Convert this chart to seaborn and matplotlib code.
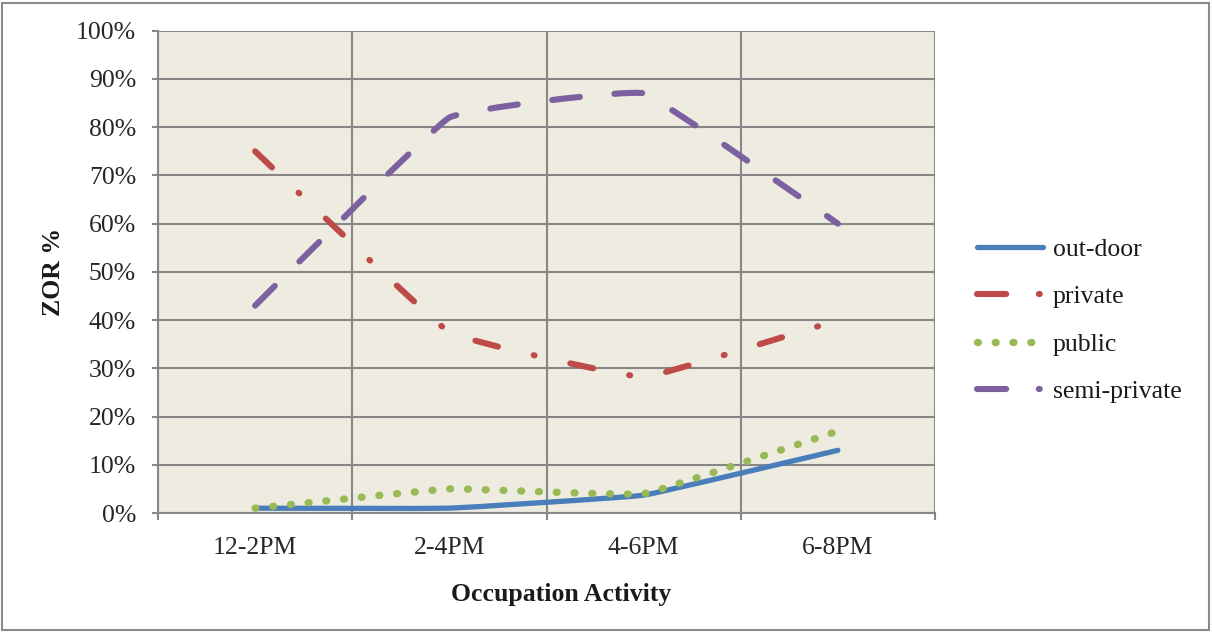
import numpy as np
import pandas as pd
import matplotlib
matplotlib.use("Agg")
import matplotlib.pyplot as plt
import seaborn as sns
from matplotlib.path import Path
from matplotlib.patches import PathPatch, Rectangle
from matplotlib.lines import Line2D
from matplotlib.ticker import FixedLocator, PercentFormatter

# ---- data -------------------------------------------------------------
periods = ["12-2PM", "2-4PM", "4-6PM", "6-8PM"]
outdoor = [1, 1, 3.7, 13]
private = [75, 37.5, 28.2, 40]
public = [1, 5, 4, 17]
semi_private = [43, 82, 87, 60]
series_names = ["out-door", "private", "public", "semi-private"]
y_ticks = [0, 10, 20, 30, 40, 50, 60, 70, 80, 90, 100]

# ---- styling ----------------------------------------------------------
colors = {"out-door": "#4A7EBB", "private": "#BE4B48",
          "public": "#98B954", "semi-private": "#7D60A0"}
widths = {"out-door": 3.8, "private": 4.4, "public": 5.3, "semi-private": 4.4}
styles = {"out-door": "-",
          "private": (0, (16.8, 26.4, 0.7, 26.4)),
          "public": (0, (0.6, 12.2)),
          "semi-private": (0, (20.0, 25.0))}
legend_styles = dict(styles)
legend_styles["private"] = (0, (21.0, 23.5, 0.7, 30.0))
legend_styles["semi-private"] = legend_styles["private"]

GRID = "#878787"
PLOT_BG = "#EEECE1"
FS = 18.5
TENSION = 0.04

sns.set_theme(style="white")
plt.rcParams["font.family"] = ["Liberation Serif", "DejaVu Serif"]
plt.rcParams["lines.scale_dashes"] = False
plt.rcParams["text.color"] = "#1a1a1a"

df = pd.DataFrame({
    "period": periods * 4,
    "series": np.repeat(series_names, len(periods)),
    "value": outdoor + private + public + semi_private,
})

fig = plt.figure(figsize=(12.12, 6.32), dpi=100)
ax = fig.add_axes([158 / 1212, 1 - 513 / 632, (935 - 158) / 1212, (513 - 30.7) / 632])
ax.set_facecolor(PLOT_BG)

sns.lineplot(data=df, x="period", y="value", hue="series", hue_order=series_names,
             palette=colors, sort=False, legend=False, ax=ax)


def smooth_path(xy, t=TENSION):
    """Bezier path through the points with Catmull-Rom style tangents."""
    pts = np.asarray(xy, dtype=float)
    n = len(pts)
    verts = [pts[0]]
    codes = [Path.MOVETO]
    for i in range(n - 1):
        p0 = pts[max(i - 1, 0)]
        p1 = pts[i]
        p2 = pts[i + 1]
        p3 = pts[min(i + 2, n - 1)]
        verts += [p1 + (p2 - p0) * t, p2 - (p3 - p1) * t, p2]
        codes += [Path.CURVE4] * 3
    return Path(verts, codes)


# replace the straight polylines with smoothed curves through the same points
for line, name in zip(list(ax.lines), series_names):
    xy = line.get_xydata()
    line.set_visible(False)
    patch = PathPatch(smooth_path(xy), facecolor="none", edgecolor=colors[name],
                      linewidth=widths[name], linestyle=styles[name],
                      capstyle="round", joinstyle="round", zorder=3)
    ax.add_patch(patch)

# axes, grid, ticks
ax.set_xlim(-0.5, len(periods) - 0.5)
ax.set_ylim(0, 100)
ax.yaxis.set_major_locator(FixedLocator(y_ticks))
ax.yaxis.set_major_formatter(PercentFormatter(decimals=0))
ax.xaxis.set_minor_locator(FixedLocator(np.arange(-0.5, len(periods), 1.0)))
ax.set_xticks(range(len(periods)))
ax.set_xticklabels(periods)

ax.grid(True, axis="y", which="major", color=GRID, linewidth=1.5)
ax.grid(True, axis="x", which="minor", color=GRID, linewidth=1.5)
ax.grid(False, axis="x", which="major")
ax.set_axisbelow(True)

for side, sp in ax.spines.items():
    sp.set_visible(side in ("left", "bottom"))
    sp.set_color(GRID)
    sp.set_linewidth(1.5)

ax.tick_params(axis="y", which="major", direction="out", length=4.3, width=1.5,
               color=GRID, pad=11.5, labelsize=FS, left=True)
ax.tick_params(axis="x", which="major", length=0, pad=17, labelsize=FS, bottom=True)
ax.tick_params(axis="x", which="minor", direction="out", length=5, width=1.5,
               color=GRID, bottom=True)

ax.set_xlabel("")
ax.set_ylabel("")
fig.text(561 / 1212, 1 - 594 / 632, "Occupation Activity", ha="center", va="center",
         fontsize=FS, fontweight="bold")
fig.text(53 / 1212, 1 - 272 / 632, "ZOR %", ha="center", va="center", rotation=90,
         fontsize=FS, fontweight="bold")

# legend
handles = [Line2D([], [], color=colors[n], linewidth=widths[n], linestyle=legend_styles[n],
                  dash_capstyle="round", solid_capstyle="round") for n in series_names]
fig.legend(handles, series_names, loc="upper left",
           bbox_to_anchor=(977 / 1212, 1 - 238 / 632), frameon=False,
           fontsize=FS, handlelength=2.55, handletextpad=0.4, labelspacing=0.95,
           borderpad=0, borderaxespad=0)

# chart border
fig.add_artist(Rectangle((2 / 1212, 2 / 632), 1207 / 1212, 627 / 632,
                         transform=fig.transFigure, fill=False, edgecolor="#8a8a8a",
                         linewidth=1.5))

fig.savefig("out.png", dpi=100)
